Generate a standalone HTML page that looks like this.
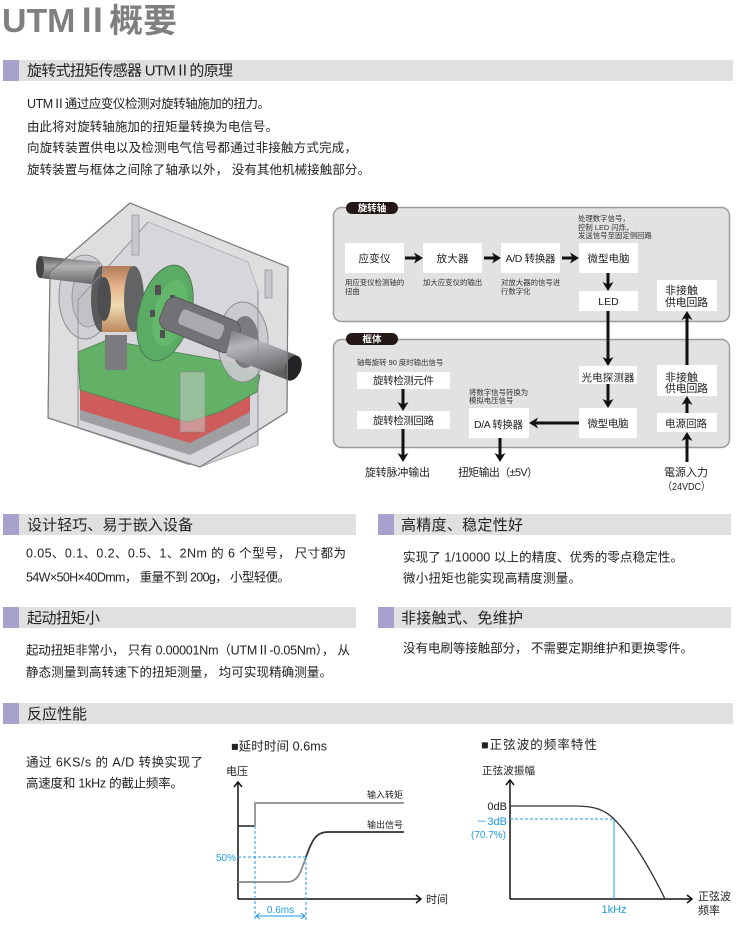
<!DOCTYPE html>
<html><head><meta charset="utf-8"><style>
html,body{margin:0;padding:0;background:#fff;}
svg{display:block;font-family:"Liberation Sans","Noto Sans CJK SC",sans-serif;}
</style></head><body>
<svg width="737" height="945" viewBox="0 0 737 945" xmlns="http://www.w3.org/2000/svg">
<defs>
<linearGradient id="orng" x1="0" y1="0" x2="0" y2="1">
<stop offset="0" stop-color="#a0582a"/><stop offset="0.3" stop-color="#e7a36a"/><stop offset="0.6" stop-color="#f5d9a0"/><stop offset="1" stop-color="#b06a30"/></linearGradient>
<linearGradient id="shaft" x1="0" y1="0" x2="0" y2="1">
<stop offset="0" stop-color="#555"/><stop offset="0.35" stop-color="#a5a5a8"/><stop offset="1" stop-color="#3a3a3c"/></linearGradient>
<linearGradient id="shaft2" x1="0" y1="0" x2="0.3" y2="1">
<stop offset="0" stop-color="#5a5a5e"/><stop offset="0.35" stop-color="#a8a8ac"/><stop offset="1" stop-color="#343436"/></linearGradient>
</defs>
<rect width="737" height="945" fill="#fff"/>

<!-- Title -->
<text x="2" y="32" font-size="33" font-weight="bold" fill="#7f7f7f" textLength="175" lengthAdjust="spacingAndGlyphs">UTMⅡ概要</text>

<!-- Section 1 header -->
<rect x="3" y="60" width="16" height="21" fill="#a6a2cd"/>
<rect x="19" y="60" width="714" height="21" fill="#e0e0e0"/>
<text x="27" y="75.5" font-size="15" fill="#222" textLength="206" lengthAdjust="spacing">旋转式扭矩传感器 UTMⅡ的原理</text>

<g font-size="12.5" fill="#222">
<text x="27" y="108" textLength="243" lengthAdjust="spacing">UTMⅡ通过应变仪检测对旋转轴施加的扭力。</text>
<text x="27" y="131" textLength="251" lengthAdjust="spacing">由此将对旋转轴施加的扭矩量转换为电信号。</text>
<text x="27" y="152" textLength="330" lengthAdjust="spacing">向旋转装置供电以及检测电气信号都通过非接触方式完成，</text>
<text x="27" y="174" textLength="343" lengthAdjust="spacing">旋转装置与框体之间除了轴承以外， 没有其他机械接触部分。</text>
</g>

<!-- 3D sensor illustration -->
<g>
<polygon points="130,203 288,267 287,412 200,467 48,418 50,272" fill="#dedee1" stroke="#8a8a8e" stroke-width="1"/>
<polygon points="148,222 248,262 258,290 258,445 200,467 78,428 78,300" fill="#d4d4d8" stroke="#9a9a9e" stroke-width="0.8"/>
<!-- left flange -->
<ellipse cx="85" cy="297" rx="26" ry="42" fill="#cbcbcf" stroke="#777" stroke-width="1"/>
<ellipse cx="88" cy="297" rx="16" ry="30" fill="#b8b8bc" stroke="#777" stroke-width="0.8"/>
<!-- left shaft -->
<polygon points="40,256 100,262 100,285 40,278" fill="url(#shaft)"/>
<ellipse cx="40" cy="267" rx="4" ry="11" fill="#444"/>
<!-- dark base under red -->
<polygon points="80,405 190,440 250,410 250,425 190,455 80,420" fill="#8a8a8e"/>
<!-- red -->
<polygon points="80,388 187,422 250,396 250,412 190,443 80,410" fill="#c9302c"/>
<!-- green pcb -->
<polygon points="78,352 107,340 230,362 260,375 257,392 220,412 187,422 80,390" fill="#3aa03e" stroke="#1d5d20" stroke-width="0.8"/>
<rect x="105" y="335" width="22" height="35" fill="#5a5a5e"/>
<!-- orange ring -->
<ellipse cx="102" cy="299" rx="11" ry="33" fill="#2e2e30"/>
<rect x="102" y="266" width="30" height="66" fill="url(#orng)"/>
<ellipse cx="134" cy="299" rx="10" ry="33" fill="#3a3a3c"/>
<ellipse cx="104" cy="299" rx="7" ry="22" fill="#1e1e20"/>
<!-- green disc -->
<ellipse cx="165" cy="313" rx="26" ry="49" fill="#2f9a3a" stroke="#1a5a20" stroke-width="1" transform="rotate(15 165 313)"/>
<ellipse cx="170" cy="313" rx="16" ry="34" fill="#3aab44" transform="rotate(15 170 313)"/>
<rect x="155" y="285" width="6" height="10" fill="#222"/>
<rect x="170" y="295" width="5" height="8" fill="#222"/>
<rect x="160" y="330" width="5" height="8" fill="#222"/>
<rect x="150" y="310" width="5" height="7" fill="#222"/>
<!-- right bearing -->
<ellipse cx="243" cy="342" rx="25" ry="40" fill="#c4c4c8" stroke="#666" stroke-width="1" opacity="0.9"/>
<ellipse cx="245" cy="342" rx="14" ry="26" fill="#5a5a5e"/>
<!-- yoke -->
<rect x="160" y="308" width="80" height="34" rx="10" fill="#4e4e52" stroke="#2a2a2c" stroke-width="1" transform="rotate(22 200 325)"/>
<rect x="178" y="316" width="46" height="16" rx="4" fill="#9a9a9e" transform="rotate(22 200 325)"/>
<!-- right shaft -->
<polygon points="232,330 296,355 290,381 226,356" fill="url(#shaft2)"/>
<ellipse cx="293" cy="368" rx="8" ry="13" fill="#232325" transform="rotate(20 293 368)"/>
<!-- box translucent overlay edges -->
<polygon points="130,203 288,267 287,412 200,467 48,418 50,272" fill="#e0e0e4" fill-opacity="0.25" stroke="#7a7a7e" stroke-width="1.2"/>
<line x1="148" y1="222" x2="78" y2="300" stroke="#8a8a8e" stroke-width="0.8"/>
<line x1="78" y1="300" x2="78" y2="428" stroke="#8a8a8e" stroke-width="0.8"/>
<line x1="78" y1="428" x2="190" y2="465" stroke="#8a8a8e" stroke-width="0.8"/>
<line x1="258" y1="290" x2="258" y2="445" stroke="#8a8a8e" stroke-width="0.8"/>
<rect x="132" y="215" width="7" height="40" fill="#c8c8cc" stroke="#888" stroke-width="0.6"/>
<rect x="265" y="270" width="7" height="28" fill="#c8c8cc" stroke="#888" stroke-width="0.6"/>
<rect x="180" y="372" width="25" height="60" fill="#cfcfd3" fill-opacity="0.5" stroke="#888" stroke-width="0.6"/>
</g>

<!-- Diagram panels -->
<rect x="333.5" y="207.5" width="396" height="114" rx="8" fill="#e2e2e2" stroke="#9c9c9c" stroke-width="1.5"/>
<rect x="333.5" y="339.5" width="396" height="108" rx="8" fill="#e2e2e2" stroke="#9c9c9c" stroke-width="1.5"/>
<rect x="346" y="202" width="52" height="12" rx="6" fill="#231815"/>
<text x="372" y="211.5" font-size="9.5" font-weight="bold" fill="#fff" text-anchor="middle">旋转轴</text>
<rect x="346" y="333" width="52" height="12" rx="6" fill="#231815"/>
<text x="372" y="342.5" font-size="9.5" font-weight="bold" fill="#fff" text-anchor="middle">框体</text>

<g fill="#fff">
<rect x="345" y="243" width="59" height="30"/>
<rect x="423" y="243" width="59" height="30"/>
<rect x="501" y="243" width="59" height="30"/>
<rect x="579" y="243" width="59" height="30"/>
<rect x="579" y="291" width="59" height="20"/>
<rect x="657" y="280" width="60" height="31"/>
<rect x="357" y="372" width="93" height="17"/>
<rect x="357" y="411" width="93" height="18"/>
<rect x="469" y="408" width="60" height="30"/>
<rect x="579" y="366" width="58" height="18"/>
<rect x="579" y="408" width="58" height="30"/>
<rect x="657" y="365" width="60" height="31"/>
<rect x="657" y="413" width="60" height="19"/>
</g>

<g font-size="10.5" fill="#222" text-anchor="middle">
<text x="374.5" y="262" textLength="32" lengthAdjust="spacing">应变仪</text>
<text x="452.5" y="262" textLength="32" lengthAdjust="spacing">放大器</text>
<text x="530.5" y="262" textLength="50" lengthAdjust="spacing">A/D 转换器</text>
<text x="608.5" y="262" textLength="42" lengthAdjust="spacing">微型电脑</text>
<text x="608.5" y="305">LED</text>
<text x="403.5" y="384" textLength="61" lengthAdjust="spacing">旋转检测元件</text>
<text x="403.5" y="424" textLength="61" lengthAdjust="spacing">旋转检测回路</text>
<text x="498.5" y="428" textLength="49" lengthAdjust="spacing">D/A 转换器</text>
<text x="608" y="381" textLength="53" lengthAdjust="spacing">光电探测器</text>
<text x="608" y="427" textLength="41" lengthAdjust="spacing">微型电脑</text>
<text x="686" y="427" textLength="42" lengthAdjust="spacing">电源回路</text>
</g>
<g font-size="11" fill="#222">
<text x="665" y="294">非接触</text>
<text x="665" y="306" textLength="43" lengthAdjust="spacing">供电回路</text>
<text x="665" y="381">非接触</text>
<text x="665" y="392" textLength="43" lengthAdjust="spacing">供电回路</text>
</g>
<g font-size="7.4" fill="#333">
<text x="345" y="285">用应变仪检测轴的</text>
<text x="345" y="294">扭曲</text>
<text x="423" y="285">加大应变仪的输出</text>
<text x="501" y="285">对放大器的信号进</text>
<text x="501" y="294">行数字化</text>
<text x="578" y="221">处理数字信号，</text>
<text x="578" y="230">控制 LED 闪烁，</text>
<text x="578" y="238">发送信号至固定侧回路</text>
<text x="357" y="365">轴每旋转 90 度时输出信号</text>
<text x="469" y="395">将数字信号转换为</text>
<text x="469" y="403">模拟电压信号</text>
</g>
<g font-size="11" fill="#222">
<text x="365" y="476" textLength="65" lengthAdjust="spacing">旋转脉冲输出</text>
<text x="458" y="476" textLength="80" lengthAdjust="spacing">扭矩输出（±5V）</text>
<text x="664" y="476" textLength="44" lengthAdjust="spacing">電源入力</text>
<text x="663" y="490" font-size="10.5" textLength="47" lengthAdjust="spacingAndGlyphs">（24VDC）</text>
</g>

<!-- arrows -->
<g stroke="#111" stroke-width="3" fill="none">
<line x1="405" y1="258" x2="417" y2="258"/>
<line x1="484" y1="258" x2="495" y2="258"/>
<line x1="562" y1="258" x2="573" y2="258"/>
<line x1="608" y1="273" x2="608" y2="285"/>
<line x1="608" y1="311" x2="608" y2="360"/>
<line x1="608" y1="384" x2="608" y2="402"/>
<line x1="579" y1="423" x2="535" y2="423"/>
<line x1="500" y1="438" x2="500" y2="456"/>
<line x1="403" y1="389" x2="403" y2="405"/>
<line x1="403" y1="429" x2="403" y2="456"/>
<line x1="687" y1="462" x2="687" y2="438"/>
<line x1="687" y1="413" x2="687" y2="402"/>
<line x1="687" y1="365" x2="687" y2="317"/>
</g>
<g fill="#111">
<polygon points="423,258 414,252.5 416.5,258 414,263.5"/>
<polygon points="501,258 492,252.5 494.5,258 492,263.5"/>
<polygon points="579,258 570,252.5 572.5,258 570,263.5"/>
<polygon points="608,291 602.5,282 608,284.5 613.5,282"/>
<polygon points="608,366 602.5,357 608,359.5 613.5,357"/>
<polygon points="608,408 602.5,399 608,401.5 613.5,399"/>
<polygon points="529,423 538,417.5 535.5,423 538,428.5"/>
<polygon points="500,462 494.5,453 500,455.5 505.5,453"/>
<polygon points="403,411 397.5,402 403,404.5 408.5,402"/>
<polygon points="403,462 397.5,453 403,455.5 408.5,453"/>
<polygon points="687,432 681.5,441 687,438.5 692.5,441"/>
<polygon points="687,396 681.5,405 687,402.5 692.5,405"/>
<polygon points="687,311 681.5,320 687,317.5 692.5,320"/>
</g>

<!-- Row 2 -->
<rect x="3" y="514" width="16" height="21" fill="#a6a2cd"/>
<rect x="19" y="514" width="337" height="21" fill="#e0e0e0"/>
<text x="27" y="530" font-size="15" fill="#222" textLength="166" lengthAdjust="spacing">设计轻巧、易于嵌入设备</text>
<rect x="378" y="514" width="16" height="21" fill="#a6a2cd"/>
<rect x="394" y="514" width="337" height="21" fill="#e0e0e0"/>
<text x="401" y="530" font-size="15" fill="#222" textLength="122" lengthAdjust="spacing">高精度、稳定性好</text>
<g font-size="12.5" fill="#222">
<text x="26" y="557.5" textLength="320" lengthAdjust="spacing">0.05、0.1、0.2、0.5、1、2Nm 的 6 个型号， 尺寸都为</text>
<text x="26" y="581.5" textLength="264" lengthAdjust="spacing">54W×50H×40Dmm， 重量不到 200g， 小型轻便。</text>
<text x="403" y="561.5" textLength="280" lengthAdjust="spacing">实现了 1/10000 以上的精度、优秀的零点稳定性。</text>
<text x="403" y="582.5" textLength="178" lengthAdjust="spacing">微小扭矩也能实现高精度测量。</text>
</g>

<!-- Row 3 -->
<rect x="3" y="607" width="16" height="21" fill="#a6a2cd"/>
<rect x="19" y="607" width="337" height="21" fill="#e0e0e0"/>
<text x="27" y="623" font-size="15" fill="#222" textLength="73" lengthAdjust="spacing">起动扭矩小</text>
<rect x="378" y="607" width="16" height="21" fill="#a6a2cd"/>
<rect x="394" y="607" width="337" height="21" fill="#e0e0e0"/>
<text x="401" y="623" font-size="15" fill="#222" textLength="122" lengthAdjust="spacing">非接触式、免维护</text>
<g font-size="12.5" fill="#222">
<text x="26" y="654.5" textLength="324" lengthAdjust="spacing">起动扭矩非常小， 只有 0.00001Nm（UTMⅡ-0.05Nm）， 从</text>
<text x="26" y="676.5" textLength="306" lengthAdjust="spacing">静态测量到高转速下的扭矩测量， 均可实现精确测量。</text>
<text x="403" y="652.5" textLength="290" lengthAdjust="spacing">没有电刷等接触部分， 不需要定期维护和更换零件。</text>
</g>

<!-- Row 4 -->
<rect x="3" y="703" width="16" height="21" fill="#a6a2cd"/>
<rect x="19" y="703" width="714" height="21" fill="#e0e0e0"/>
<text x="27" y="719" font-size="15" fill="#222" textLength="60" lengthAdjust="spacing">反应性能</text>
<g font-size="12.5" fill="#222">
<text x="26" y="766.5" textLength="177" lengthAdjust="spacing">通过 6KS/s 的 A/D 转换实现了</text>
<text x="26" y="787.5" textLength="157" lengthAdjust="spacing">高速度和 1kHz 的截止频率。</text>
</g>

<!-- Chart 1 -->
<text x="231" y="750.5" font-size="12.5" fill="#222" textLength="96" lengthAdjust="spacing">■延时时间 0.6ms</text>
<text x="226" y="775" font-size="11" fill="#222">电压</text>
<line x1="238" y1="899" x2="238" y2="783" stroke="#111" stroke-width="1.5"/>
<polyline points="234,787 238,782 242,787" fill="none" stroke="#111" stroke-width="1.5"/>
<line x1="238" y1="899" x2="420" y2="899" stroke="#111" stroke-width="1.5"/>
<polyline points="416,895 421,899 416,903" fill="none" stroke="#111" stroke-width="1.5"/>
<text x="426" y="903" font-size="11" fill="#222">时间</text>
<line x1="238" y1="826" x2="255" y2="826" stroke="#222" stroke-width="1.5"/>
<polyline points="255,826 255,803 404,803" fill="none" stroke="#9a9a9a" stroke-width="2"/>
<text x="367" y="798" font-size="9" fill="#222">输入转矩</text>
<path d="M238,882 L287,882 C297,882 300,875 306,857" fill="none" stroke="#8a8a8a" stroke-width="1.8"/>
<path d="M306,857 C312,840 316,832 328,832 L404,832" fill="none" stroke="#333" stroke-width="1.8"/>
<text x="367" y="828" font-size="9" fill="#222">输出信号</text>
<g stroke="#1e9be0" stroke-width="1" fill="none">
<line x1="238" y1="857" x2="306" y2="857" stroke-dasharray="3,2"/>
<line x1="255" y1="826" x2="255" y2="920" stroke-dasharray="3,2"/>
<line x1="306" y1="857" x2="306" y2="920" stroke-dasharray="3,2"/>
<line x1="256" y1="916" x2="305" y2="916"/>
<polyline points="260,913 256,916 260,919"/>
<polyline points="301,913 305,916 301,919"/>
</g>
<text x="280.5" y="913" font-size="10" fill="#1e9be0" text-anchor="middle">0.6ms</text>
<text x="236" y="861" font-size="10" fill="#1e9be0" text-anchor="end">50%</text>

<!-- Chart 2 -->
<text x="481" y="749" font-size="12.5" fill="#222" textLength="116" lengthAdjust="spacing">■正弦波的频率特性</text>
<text x="482" y="774" font-size="10.5" fill="#222" textLength="53" lengthAdjust="spacing">正弦波振幅</text>
<line x1="510" y1="899" x2="510" y2="781" stroke="#111" stroke-width="1.5"/>
<polyline points="506,785 510,780 514,785" fill="none" stroke="#111" stroke-width="1.5"/>
<line x1="510" y1="899" x2="691" y2="899" stroke="#111" stroke-width="1.5"/>
<polyline points="687,895 692,899 687,903" fill="none" stroke="#111" stroke-width="1.5"/>
<path d="M510,806 L575,806 C595,806 605,810 614,819 C630,835 650,868 665,899" fill="none" stroke="#333" stroke-width="1.3"/>
<line x1="510" y1="819" x2="614" y2="819" stroke="#1e9be0" stroke-width="1" stroke-dasharray="3,2"/>
<line x1="614" y1="819" x2="614" y2="899" stroke="#1e9be0" stroke-width="1"/>
<text x="507" y="810" font-size="11" fill="#222" text-anchor="end">0dB</text>
<text x="507" y="825" font-size="11" fill="#1e9be0" text-anchor="end">－3dB</text>
<text x="506" y="838" font-size="10" fill="#1e9be0" text-anchor="end">(70.7%)</text>
<text x="614" y="913" font-size="11" fill="#1e9be0" text-anchor="middle">1kHz</text>
<text x="698" y="900" font-size="11" fill="#222">正弦波</text>
<text x="698" y="914" font-size="11" fill="#222">频率</text>
</svg>
</body></html>
